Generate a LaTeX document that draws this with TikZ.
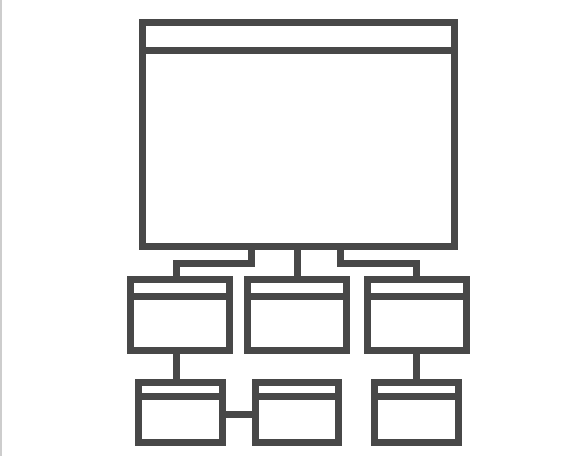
\documentclass[tikz,border=0pt]{standalone}
\usepackage{tikz}
\usetikzlibrary{positioning, calc}
\definecolor{iconfg}{RGB}{72,72,72}
\definecolor{edgegray}{RGB}{205,205,205}

\begin{document}
\begin{tikzpicture}[x=1pt, y=-1pt]
			\tikzset{
			win/.style={
					rectangle, draw=iconfg, line width=7pt,
					inner sep=0pt, outer sep=0pt, fill=white,
				},
			bar/.style={draw=iconfg, line width=7pt},
			link/.style={draw=iconfg, line width=7pt},
			}
			\useasboundingbox (0,0) rectangle (574,456);
			\draw[edgegray, line width=1.5pt] (1.2,0) -- (1.2,456);

			% main window
			\node[win, minimum width=312pt, minimum height=223.7pt] (main) at (298.5,134.65) {};
			% second row
			\node[win, minimum width=99pt, minimum height=71.5pt] (left) at (179.5,314.75) {};
			\node[win, minimum width=99pt, minimum height=71.5pt] (mid) at (297,314.75) {};
			\node[win, minimum width=98.5pt, minimum height=71.5pt] (right) at (416.75,314.75) {};
			% third row
			\node[win, minimum width=84pt, minimum height=60pt] (leftsub) at (180.5,412.5) {};
			\node[win, minimum width=83pt, minimum height=60pt] (midsub) at (296.5,412.5) {};
			\node[win, minimum width=84pt, minimum height=60pt] (rightsub) at (416,412.5) {};

			% title bars
			\draw[bar] ([yshift=-27.2pt]main.north west) -- ([yshift=-27.2pt]main.north east);
			\foreach \w in {left, mid, right}
				\draw[bar] ([yshift=-17.7pt]\w.north west) -- ([yshift=-17.7pt]\w.north east);
			\foreach \w in {leftsub, midsub, rightsub}
				\draw[bar] ([yshift=-14pt]\w.north west) -- ([yshift=-14pt]\w.north east);

			% connectors
			\draw[link] ([xshift=-47pt]main.south) |- ([xshift=-3pt, yshift=16pt]left.north) -- ([xshift=-3pt]left.north);
			\draw[link] (main.south -| mid.north) -- (mid.north);
			\draw[link] ([xshift=42pt]main.south) |- ([xshift=-0.5pt, yshift=16pt]right.north) -- ([xshift=-0.5pt]right.north);
			\draw[link] ([xshift=-4.5pt]leftsub.north) -- ([xshift=-4.5pt]leftsub.north |- left.south);
			\draw[link] ([yshift=-1.5pt]leftsub.east) -- ([yshift=-1.5pt]midsub.west);
			\draw[link] (right.south -| rightsub.north) -- (rightsub.north);
		\end{tikzpicture}
\end{document}
